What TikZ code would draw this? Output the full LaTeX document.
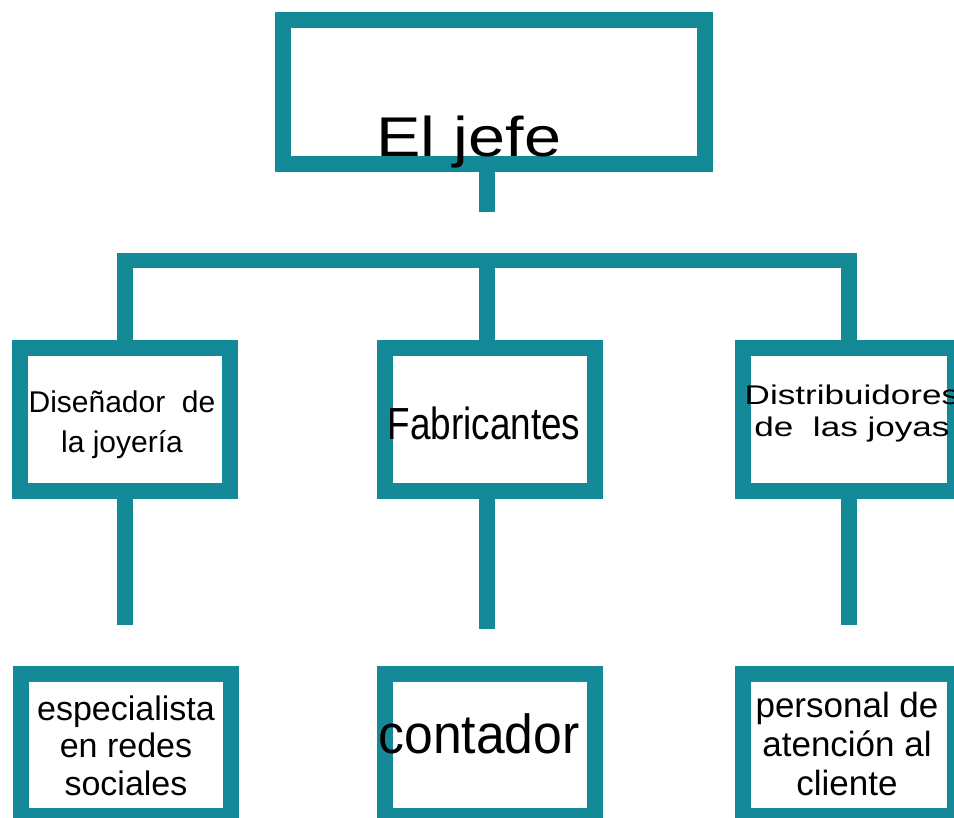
\documentclass[tikz,border=0pt]{standalone}
\usepackage{fontspec}
\setmainfont{Liberation Sans}
\newfontfamily\fjefe[FakeStretch=1.19]{Liberation Sans}
\newfontfamily\fnarrow[FakeStretch=0.82]{Liberation Sans}
\newfontfamily\fwide[FakeStretch=1.3]{Liberation Sans}
\newfontfamily\fcont[FakeStretch=0.94]{Liberation Sans}
\definecolor{tealbox}{RGB}{20,138,153}
\begin{document}
\begin{tikzpicture}[x=1pt,y=-1pt,
  box/.style={draw=tealbox, line width=16pt, rectangle, inner sep=0pt,
              minimum width=210pt, minimum height=143pt},
  conn/.style={draw=tealbox, line width=15.5pt, line cap=butt, line join=miter},
  lbl/.style={inner sep=0pt, align=center, anchor=base, text=black}]
\clip (0,0) rectangle (954,818);
\fill[white] (0,0) rectangle (954,818);

% boxes
\node[box, minimum width=422pt, minimum height=144pt] (jefe) at (494,92) {};
\node[box] (dis)  at (125,419.5) {};
\node[box] (fab)  at (490,419.5) {};
\node[box, minimum width=212pt] (dist) at (849,419.5) {};
\node[box, minimum height=142pt] (esp)  at (125.5,745) {};
\node[box, minimum height=142pt] (cont) at (490,745) {};
\node[box, minimum width=212pt, minimum height=142pt] (pers) at (849,745) {};

% connectors
\coordinate (j1) at (487,212);
\coordinate (bar) at (487,260.5);
\coordinate (d1) at (125,625);
\coordinate (f1) at (487,629);
\coordinate (r1) at (849,625);
\draw[conn] (jefe.south -| j1) -- (j1);
\draw[conn] (dis.north) |- (bar) -| (dist.north);
\draw[conn] (bar) -- (fab.north -| bar);
\draw[conn] (dis.south) -- (d1);
\draw[conn] (fab.south -| f1) -- (f1);
\draw[conn] (dist.south) -- (r1);

% labels (base = baseline of the last line)
\node[lbl, anchor=base west, font={\fjefe\fontsize{56}{60}\selectfont}] (tjefe) at (376,157) {El jefe};
\node[lbl, font={\fontsize{30}{40}\selectfont}] (tdis) at (122,453) {Diseñador~ de\\la joyería};
\node[lbl, font={\fnarrow\fontsize{45}{50}\selectfont}] (tfab) at (484,440) {Fabricantes};
\node[lbl, font={\fwide\fontsize{27}{32}\selectfont}] (tdist) at (852,436) {Distribuidores\\de~ las joyas};
\node[lbl, font={\fontsize{34}{37.5}\selectfont}] (tesp) at (126,795) {especialista\\en redes\\sociales};
\node[lbl, font={\fcont\fontsize{55}{60}\selectfont}] (tcont) at (479,753) {contador};
\node[lbl, font={\fontsize{35}{39}\selectfont}] (tpers) at (847,795) {personal de\\atención al\\cliente};
\end{tikzpicture}
\end{document}
